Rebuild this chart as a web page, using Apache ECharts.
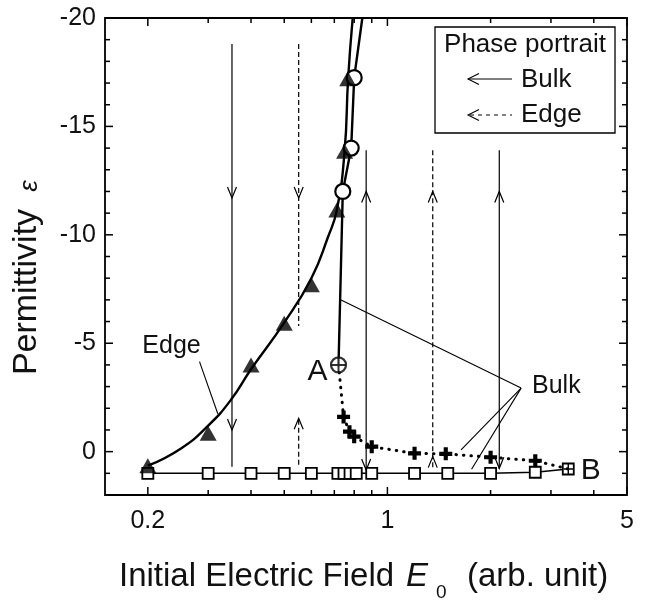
<!DOCTYPE html>
<html>
<head>
<meta charset="utf-8">
<script src="https://cdn.jsdelivr.net/npm/echarts@6/dist/echarts.min.js"></script>
<style>
  html, body { margin: 0; padding: 0; background: #fff; }
  #chart { width: 650px; height: 603px; }
</style>
</head>
<body>
<div id="chart"></div>
<script>
// bulk, open squares (E0, permittivity)
const squareE   = [0.2, 0.3, 0.4, 0.5, 0.6, 0.717, 0.747, 0.778, 0.811, 0.9, 1.2, 1.5, 2.0, 2.7, 3.37];
const squareEps = [1, 1, 1, 1, 1, 1, 1, 1, 1, 1, 1, 1, 1, 0.95, 0.8];
// edge, filled triangles
const triE   = [0.2, 0.3, 0.4, 0.5, 0.6, 0.712, 0.75, 0.766];
const triEps = [0.65, -0.85, -4.0, -5.92, -7.7, -11.15, -13.85, -17.2];
// edge guide curve as drawn in the figure (runs on to the top of the frame)
const edgeCurveE   = [0.2, 0.25, 0.3, 0.35, 0.4, 0.5, 0.6, 0.671, 0.712, 0.75, 0.768, 0.792];
const edgeCurveEps = [0.65, -0.15, -1.2, -2.4, -3.8, -5.95, -8.0, -9.9, -11.15, -13.85, -17.2, -20];
// bulk upper branch: from A through the open circles
const pointA  = [0.72, -4];
const circE   = [0.741, 0.784, 0.80];
const circEps = [-12, -14, -17.25];
const bulkTop = [0.845, -20];
// bulk lower branch: crosses from A to B (last one is B)
const crossE   = [0.745, 0.775, 0.80, 0.9, 1.2, 1.48, 2.0, 2.7, 3.37];
const crossEps = [-1.6, -0.92, -0.69, -0.23, 0.08, 0.1, 0.26, 0.42, 0.8];

// phase portrait flow lines: [E0, eps from, eps to, dashed]
const flowLines = [
  [0.352, -18.8, 0.7, 0],
  [0.551, -18.8, -5.8, 1],
  [0.551, 0.6, -1.54, 1],
  [0.867, -13.9, 0.85, 0],
  [1.356, -13.9, 0.85, 1],
  [2.12, -13.9, 0.8, 0]
];
// arrow heads: [E0, eps at tip, 1 = pointing down, -1 = pointing up]
const flowHeads = [
  [0.352, -11.7, 1], [0.352, -1.0, 1],
  [0.551, -11.7, 1], [0.551, -1.54, -1],
  [0.867, -12.0, -1], [0.867, 0.85, 1],
  [1.356, -12.0, -1], [1.356, 0.23, -1],
  [2.12, -12.0, -1], [2.12, 0.77, 1]
];

// leader lines [E0 1, eps 1, E0 2, eps 2] and labels
const leaders = [
  [0.283, -4.15, 0.32, -1.75],
  [2.455, -2.93, 0.73, -7.0],
  [2.455, -2.93, 1.64, -0.08],
  [2.455, -2.93, 1.76, 0.81]
];
const notes = [
  ['Edge', 0.2345, -4.88, 25],
  ['A', 0.625, -3.69, 30],
  ['B', 3.92, 0.88, 30],
  ['Bulk', 3.11, -3.0, 25]
];

// axis ticks
const xMin = 0.15, xMax = 5, yMin = -20, yMax = 2;
const xMajorTicks = [0.2, 1, 5];
const xMinorTicks = [0.3, 0.4, 0.5, 0.6, 0.7, 0.8, 0.9, 2, 3, 4];
const yMajorTicks = [-20, -15, -10, -5, 0];
const yMinorTicks = [-19, -18, -17, -16, -14, -13, -12, -11, -9, -8, -7, -6, -4, -3, -2, -1, 1];

const FONT = '"Liberation Sans", Arial, Helvetica, sans-serif';
const INK = '#111';

const zip = (a, b) => a.map((v, i) => [v, b[i]]);

const plusThick = 'path://M3.4,0H6.6V3.4H10V6.6H6.6V10H3.4V6.6H0V3.4H3.4Z';
const plusThin = 'path://M4.3,0H5.7V4.3H10V5.7H5.7V10H4.3V5.7H0V4.3H4.3Z';

const chart = echarts.init(document.getElementById('chart'));

function xTickItem(params, api) {
  const v = api.value(0);
  const len = api.value(1) ? 8 : 5;
  const b = api.coord([v, yMax]);
  const t = api.coord([v, yMin]);
  const st = { stroke: '#000', lineWidth: 1.5 };
  return {
    type: 'group', children: [
      { type: 'line', shape: { x1: b[0], y1: b[1], x2: b[0], y2: b[1] - len }, style: st },
      { type: 'line', shape: { x1: t[0], y1: t[1], x2: t[0], y2: t[1] + len }, style: st }
    ]
  };
}
function yTickItem(params, api) {
  const v = api.value(1);
  const len = api.value(2) ? 8 : 5;
  const l = api.coord([xMin, v]);
  const r = api.coord([xMax, v]);
  const st = { stroke: '#000', lineWidth: 1.5 };
  return {
    type: 'group', children: [
      { type: 'line', shape: { x1: l[0], y1: l[1], x2: l[0] + len, y2: l[1] }, style: st },
      { type: 'line', shape: { x1: r[0], y1: r[1], x2: r[0] - len, y2: r[1] }, style: st }
    ]
  };
}

chart.setOption({
  animation: false,
  backgroundColor: '#fff',
  grid: { left: 105, top: 18, right: 23, bottom: 108, show: true, borderColor: '#000', borderWidth: 1.8 },
  xAxis: {
    type: 'log', logBase: 10, min: xMin, max: xMax,
    axisLine: { show: false }, axisTick: { show: false }, axisLabel: { show: false }, splitLine: { show: false }
  },
  yAxis: {
    type: 'value', inverse: true, min: yMin, max: yMax, interval: 5,
    axisLine: { show: false }, axisTick: { show: false }, splitLine: { show: false },
    axisLabel: {
      margin: 9, fontSize: 25, fontFamily: FONT, color: INK,
      formatter: v => (v > 0 ? '' : String(v))
    }
  },
  graphic: [
    { type: 'rect', shape: { x: 435, y: 27, width: 180, height: 106 }, style: { fill: '#fff', stroke: '#000', lineWidth: 1.3 }, z: 10 },
    { type: 'text', x: 525, y: 45, z: 11, style: { text: 'Phase portrait', font: '26px ' + FONT, fill: INK, align: 'center', verticalAlign: 'middle' } },
    { type: 'line', z: 11, shape: { x1: 468, y1: 79, x2: 512, y2: 79 }, style: { stroke: '#000', lineWidth: 1.1 } },
    { type: 'polyline', z: 11, shape: { points: [[479, 73.5], [468, 79], [479, 84.5]] }, style: { stroke: '#000', fill: null, lineWidth: 1.1 } },
    { type: 'text', x: 521, y: 80, z: 11, style: { text: 'Bulk', font: '26px ' + FONT, fill: INK, align: 'left', verticalAlign: 'middle' } },
    { type: 'line', z: 11, shape: { x1: 470, y1: 115, x2: 512, y2: 115 }, style: { stroke: '#000', lineWidth: 1.1, lineDash: [4, 4] } },
    { type: 'polyline', z: 11, shape: { points: [[479, 109.5], [468, 115], [479, 120.5]] }, style: { stroke: '#000', fill: null, lineWidth: 1.1 } },
    { type: 'text', x: 521, y: 115, z: 11, style: { text: 'Edge', font: '26px ' + FONT, fill: INK, align: 'left', verticalAlign: 'middle' } },

    { type: 'text', x: 27, y: 292, rotation: Math.PI / 2, style: { text: 'Permittivity', font: '34px ' + FONT, fill: INK, align: 'center', verticalAlign: 'middle' } },
    { type: 'text', x: 30, y: 186, rotation: Math.PI / 2, style: { text: 'ε', font: 'italic 26px ' + FONT, fill: INK, align: 'center', verticalAlign: 'middle' } },

    { type: 'text', x: 119, y: 577, style: { text: 'Initial Electric Field', font: '33px ' + FONT, fill: INK, align: 'left', verticalAlign: 'middle' } },
    { type: 'text', x: 406, y: 577, style: { text: 'E', font: 'italic 33px ' + FONT, fill: INK, align: 'left', verticalAlign: 'middle' } },
    { type: 'text', x: 436, y: 593, style: { text: '0', font: '19px ' + FONT, fill: INK, align: 'left', verticalAlign: 'middle' } },
    { type: 'text', x: 467, y: 577, style: { text: '(arb. unit)', font: '33px ' + FONT, fill: INK, align: 'left', verticalAlign: 'middle' } }
  ],
  series: [
    {
      type: 'custom', name: 'xTicks', silent: true, z: 1,
      data: xMajorTicks.map(v => [v, 1]).concat(xMinorTicks.map(v => [v, 0])),
      encode: { x: 0, y: 1 },
      renderItem: xTickItem
    },
    {
      type: 'custom', name: 'yTicks', silent: true, z: 1,
      data: yMajorTicks.map(v => [1, v, 1]).concat(yMinorTicks.map(v => [1, v, 0])),
      encode: { x: 0, y: 1 },
      renderItem: yTickItem
    },
    {
      type: 'custom', name: 'xLabels', silent: true,
      data: xMajorTicks.map(v => [v, yMax]),
      encode: { x: 0, y: 1 },
      renderItem: (params, api) => {
        const p = api.coord([api.value(0), yMax]);
        return { type: 'text', x: p[0], y: p[1] + 26, style: { text: String(api.value(0)), font: '25px ' + FONT, fill: INK, align: 'center', verticalAlign: 'middle' } };
      }
    },
    {
      type: 'custom', name: 'flow', silent: true, z: 2,
      data: flowLines,
      encode: { x: 0, y: 1 },
      renderItem: (params, api) => {
        const x = api.value(0);
        const p1 = api.coord([x, api.value(1)]);
        const p2 = api.coord([x, api.value(2)]);
        return { type: 'line', shape: { x1: p1[0], y1: p1[1], x2: p2[0], y2: p2[1] }, style: { stroke: '#000', lineWidth: 1.2, lineDash: api.value(3) ? [5, 3] : null } };
      }
    },
    {
      type: 'custom', name: 'flowHeads', silent: true, z: 2,
      data: flowHeads,
      encode: { x: 0, y: 1 },
      renderItem: (params, api) => {
        const p = api.coord([api.value(0), api.value(1)]);
        const d = api.value(2);
        return { type: 'polyline', shape: { points: [[p[0] - 4.5, p[1] - 11 * d], [p[0], p[1]], [p[0] + 4.5, p[1] - 11 * d]] }, style: { stroke: '#000', fill: null, lineWidth: 1.2 } };
      }
    },
    {
      type: 'custom', name: 'leaders', silent: true, z: 2,
      data: leaders,
      encode: { x: 0, y: 1 },
      renderItem: (params, api) => {
        const p1 = api.coord([api.value(0), api.value(1)]);
        const p2 = api.coord([api.value(2), api.value(3)]);
        return { type: 'line', shape: { x1: p1[0], y1: p1[1], x2: p2[0], y2: p2[1] }, style: { stroke: '#000', lineWidth: 1.1 } };
      }
    },
    {
      type: 'custom', name: 'notes', silent: true, z: 6,
      data: notes.map(n => [n[1], n[2]]),
      encode: { x: 0, y: 1 },
      renderItem: (params, api) => {
        const n = notes[params.dataIndex];
        const p = api.coord([n[1], n[2]]);
        return { type: 'text', x: p[0], y: p[1], style: { text: n[0], font: n[3] + 'px ' + FONT, fill: INK, align: 'center', verticalAlign: 'middle' } };
      }
    },
    {
      type: 'line', name: 'Bulk squares', z: 4,
      data: zip(squareE, squareEps),
      symbol: 'rect', symbolSize: 11, showAllSymbol: true,
      itemStyle: { color: '#fff', borderColor: '#000', borderWidth: 1.8 },
      lineStyle: { color: '#000', width: 1.6 }
    },
    {
      type: 'line', name: 'Edge curve', z: 4, smooth: 0.5,
      data: zip(edgeCurveE, edgeCurveEps),
      symbol: 'none',
      lineStyle: { color: '#000', width: 2.4 }
    },
    {
      type: 'scatter', name: 'Edge', z: 5,
      data: zip(triE, triEps),
      symbol: 'triangle', symbolSize: [17, 15],
      itemStyle: { color: '#000' }
    },
    {
      type: 'line', name: 'Bulk upper', z: 4,
      data: [{ value: pointA, symbol: 'none' }].concat(zip(circE, circEps), [{ value: bulkTop, symbol: 'none' }]),
      symbol: 'circle', symbolSize: 15, showAllSymbol: true,
      itemStyle: { color: '#fff', borderColor: '#000', borderWidth: 2.2 },
      lineStyle: { color: '#000', width: 2.4 }
    },
    {
      type: 'line', name: 'Bulk lower', z: 5,
      data: [{ value: pointA, symbol: 'none' }].concat(
        zip(crossE, crossEps).map((p, i) => i === crossE.length - 1 ? { value: p, symbol: plusThin, symbolSize: 10 } : p)
      ),
      symbol: plusThick, symbolSize: 13, showAllSymbol: true,
      itemStyle: { color: '#000' },
      lineStyle: { color: '#000', width: 3, type: [0.5, 7], cap: 'round' }
    },
    {
      type: 'scatter', name: 'A', z: 6,
      data: [pointA], symbol: 'circle', symbolSize: 15,
      itemStyle: { color: '#fff', borderColor: '#000', borderWidth: 2.2 }
    },
    {
      type: 'scatter', name: 'A cross', z: 7,
      data: [pointA], symbol: plusThin, symbolSize: 14,
      itemStyle: { color: '#000' }
    }
  ]
});
</script>
</body>
</html>
